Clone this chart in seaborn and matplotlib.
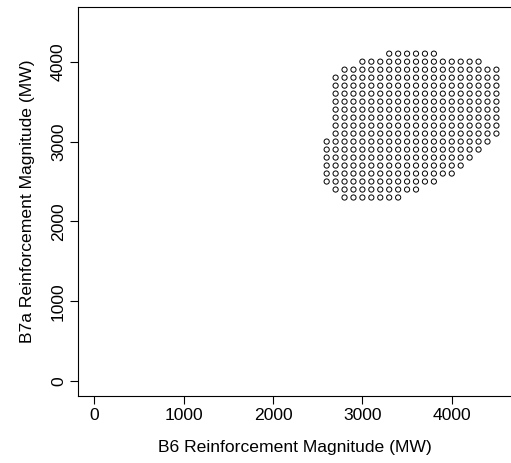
import matplotlib
matplotlib.use("Agg")
import matplotlib.pyplot as plt
import numpy as np
import pandas as pd
import seaborn as sns

# Grid levels of the two reinforcement magnitudes (MW)
b6_levels = [2600, 2700, 2800, 2900, 3000, 3100, 3200, 3300, 3400, 3500,
             3600, 3700, 3800, 3900, 4000, 4100, 4200, 4300, 4400, 4500]
b7a_levels = [4100, 4000, 3900, 3800, 3700, 3600, 3500, 3400, 3300, 3200,
              3100, 3000, 2900, 2800, 2700, 2600, 2500, 2400, 2300]

# Feasible combinations: one string per B7a level, one character per B6 level
feasible = [
    ".......oooooo.......",
    "....oooooooooooooo..",
    "..oooooooooooooooooo",
    ".ooooooooooooooooooo",
    ".ooooooooooooooooooo",
    ".ooooooooooooooooooo",
    ".ooooooooooooooooooo",
    ".ooooooooooooooooooo",
    ".ooooooooooooooooooo",
    ".ooooooooooooooooooo",
    ".ooooooooooooooooooo",
    "ooooooooooooooooooo.",
    "oooooooooooooooooo..",
    "ooooooooooooooooo...",
    "oooooooooooooooo....",
    "ooooooooooooooo.....",
    "ooooooooooooo.......",
    ".oooooooooo.........",
    "..ooooooo...........",
]

x_ticks = [0, 1000, 2000, 3000, 4000]
y_ticks = [0, 1000, 2000, 3000, 4000]

records = []
for yv, row in zip(b7a_levels, feasible):
    for xv, flag in zip(b6_levels, row):
        if flag == "o":
            records.append((xv, yv))
df = pd.DataFrame(records, columns=["b6", "b7a"])

sns.set_style("white")
plt.rcParams["font.family"] = ["Liberation Sans", "DejaVu Sans"]
plt.rcParams["font.size"] = 12.6
plt.rcParams["text.color"] = "black"
plt.rcParams["axes.labelcolor"] = "black"
plt.rcParams["xtick.color"] = "black"
plt.rcParams["ytick.color"] = "black"

W, H = 511, 463
fig = plt.figure(figsize=(W / 100, H / 100), dpi=100)
left_px, right_px, top_px, bottom_px = 78.3, 512.5, 7.3, 395.7
ax = fig.add_axes([left_px / W, (H - bottom_px) / H,
                   (right_px - left_px) / W, (bottom_px - top_px) / H])

sns.scatterplot(data=df, x="b6", y="b7a", ax=ax, marker="o", s=14,
                facecolor="none", edgecolor="black", linewidth=0.7,
                legend=False)

ax.set_xlim(-180, 4680)
ax.set_ylim(-180, 4680)
ax.set_xticks(x_ticks)
ax.set_yticks(y_ticks)
ax.set_xticklabels([str(v) for v in x_ticks])
ax.set_yticklabels([str(v) for v in y_ticks], rotation=90, va="center")

for side in ["left", "bottom", "top", "right"]:
    ax.spines[side].set_visible(True)
    ax.spines[side].set_color("black")
    ax.spines[side].set_linewidth(0.8)

ax.tick_params(axis="both", direction="out", length=5.5, width=0.8,
               color="black", labelcolor="black", labelsize=12.6, pad=3.4,
               bottom=True, left=True)

ax.set_xlabel("B6 Reinforcement Magnitude (MW)", fontsize=12.6, color="black")
ax.set_ylabel("B7a Reinforcement Magnitude (MW)", fontsize=12.6, color="black")
ax.xaxis.set_label_coords(0.5, -0.114)
ax.yaxis.set_label_coords(-0.1004, 0.5)

fig.savefig("out.png", dpi=100)
